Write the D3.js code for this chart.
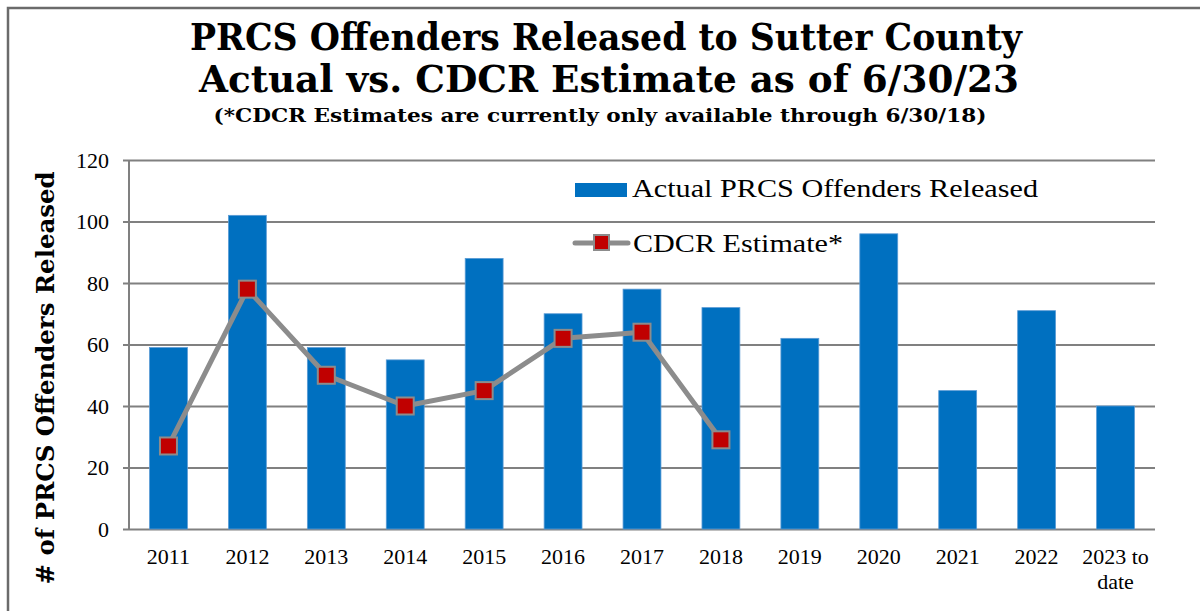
<!DOCTYPE html>
<html>
<head>
<meta charset="utf-8">
<script src="https://d3js.org/d3.v7.min.js"></script>
<style>
  body { margin: 0; background: #fff; }
  svg { display: block; }
</style>
</head>
<body>
<div id="chart-area"></div>
<script>
const years = ["2011", "2012", "2013", "2014", "2015", "2016", "2017", "2018", "2019", "2020", "2021", "2022", "2023 to date"];
const actual = [59, 102, 59, 55, 88, 70, 78, 72, 62, 96, 45, 71, 40];
const estimate = [27, 78, 50, 40, 45, 62, 64, 29];
const yTicks = [0, 20, 40, 60, 80, 100, 120];

const width = 1200;
const height = 611;
const margin = {top: 160, right: 45, bottom: 82, left: 129};
const serif = "'Liberation Serif', 'Times New Roman', serif";
const titleFont = "'DejaVu Serif Condensed', 'DejaVu Serif', serif";

const svg = d3.select("#chart-area")
    .append("svg")
    .attr("width", width)
    .attr("height", height);

// outer frame (only top and left edges visible)
svg.append("path")
    .attr("d", "M8,611 V8 H1200")
    .attr("fill", "none")
    .attr("stroke", "#6b6b6b")
    .attr("stroke-width", 2.5);

// titles
svg.append("text")
    .attr("x", 606).attr("y", 50)
    .attr("text-anchor", "middle")
    .style("font-family", titleFont)
    .style("font-weight", "bold")
    .style("font-size", "38px")
    .attr("textLength", 832)
    .attr("lengthAdjust", "spacingAndGlyphs")
    .text("PRCS Offenders Released to Sutter County");

svg.append("text")
    .attr("x", 609).attr("y", 92)
    .attr("text-anchor", "middle")
    .style("font-family", titleFont)
    .style("font-weight", "bold")
    .style("font-size", "38px")
    .attr("textLength", 820)
    .attr("lengthAdjust", "spacingAndGlyphs")
    .text("Actual vs. CDCR Estimate as of 6/30/23");

svg.append("text")
    .attr("x", 600).attr("y", 122)
    .attr("text-anchor", "middle")
    .style("font-family", titleFont)
    .style("font-weight", "bold")
    .style("font-size", "19px")
    .attr("textLength", 773)
    .attr("lengthAdjust", "spacingAndGlyphs")
    .text("(*CDCR Estimates are currently only available through 6/30/18)");

const x = d3.scaleBand()
    .domain(years)
    .range([margin.left, width - margin.right])
    .paddingInner(0.52)
    .paddingOuter(0.26);

const y = d3.scaleLinear()
    .domain([0, 120])
    .range([height - margin.bottom, margin.top]);

// gridlines + y axis
const yAxis = d3.axisLeft(y)
    .tickValues(yTicks)
    .tickSize(-(width - margin.right - margin.left))
    .tickPadding(20);

const gy = svg.append("g")
    .attr("transform", "translate(" + margin.left + ",0)")
    .call(yAxis);
gy.select(".domain").remove();
gy.selectAll(".tick line")
    .attr("x1", -6)
    .attr("stroke", "#808080")
    .attr("stroke-width", 2);
gy.selectAll(".tick text")
    .style("font-family", serif)
    .style("font-size", "22px")
    .attr("fill", "#000");

svg.append("line")
    .attr("x1", margin.left).attr("x2", margin.left)
    .attr("y1", y(120)).attr("y2", y(0))
    .attr("stroke", "#808080")
    .attr("stroke-width", 2);

// y axis title
svg.append("text")
    .attr("transform", "translate(54," + 378 + ") rotate(-90)")
    .attr("text-anchor", "middle")
    .style("font-family", "'DejaVu Serif', serif")
    .style("font-weight", "bold")
    .style("font-size", "24px")
    .attr("textLength", 413)
    .attr("lengthAdjust", "spacingAndGlyphs")
    .text("# of PRCS Offenders Released");

// legend (drawn under the bars like the original)
const legend = svg.append("g");
legend.append("rect")
    .attr("x", 575).attr("y", 183)
    .attr("width", 52).attr("height", 14)
    .attr("fill", "#0070C0");
legend.append("text")
    .attr("x", 632).attr("y", 197)
    .style("font-family", serif)
    .style("font-size", "25px")
    .attr("textLength", 406)
    .attr("lengthAdjust", "spacingAndGlyphs")
    .text("Actual PRCS Offenders Released");
legend.append("line")
    .attr("x1", 575).attr("x2", 628)
    .attr("y1", 243).attr("y2", 243)
    .attr("stroke", "#8c8c8c")
    .attr("stroke-width", 5)
    .attr("stroke-linecap", "round");
legend.append("rect")
    .attr("x", 594).attr("y", 235)
    .attr("width", 15).attr("height", 15)
    .attr("fill", "#C00000")
    .attr("stroke", "#8c8c8c")
    .attr("stroke-width", 2);
legend.append("text")
    .attr("x", 633).attr("y", 252)
    .style("font-family", serif)
    .style("font-size", "25px")
    .attr("textLength", 210)
    .attr("lengthAdjust", "spacingAndGlyphs")
    .text("CDCR Estimate*");

// bars
svg.append("g")
    .selectAll("rect")
    .data(actual)
    .join("rect")
    .attr("x", (d, i) => x(years[i]))
    .attr("y", d => y(d))
    .attr("width", x.bandwidth())
    .attr("height", d => y(0) - y(d))
    .attr("fill", "#0070C0")
    .attr("stroke", "#5b9bd5")
    .attr("stroke-width", 0.8);

// x labels
const xl = svg.append("g")
    .selectAll("text")
    .data(years)
    .join("text")
    .attr("x", d => x(d) + x.bandwidth() / 2)
    .attr("y", 564)
    .attr("text-anchor", "middle")
    .style("font-family", serif)
    .style("font-size", "22px");
xl.each(function (d) {
    const parts = d === "2023 to date" ? ["2023 to", "date"] : [d];
    const t = d3.select(this);
    parts.forEach((p, j) => {
        t.append("tspan")
            .attr("x", x(d) + x.bandwidth() / 2)
            .attr("dy", j === 0 ? 0 : 25)
            .text(p);
    });
});

// estimate line
const cx = (d, i) => x(years[i]) + x.bandwidth() / 2;
const line = d3.line()
    .x(cx)
    .y(d => y(d));

svg.append("path")
    .datum(estimate)
    .attr("d", line)
    .attr("fill", "none")
    .attr("stroke", "#8c8c8c")
    .attr("stroke-width", 5)
    .attr("stroke-linejoin", "round");

const ms = 17;
svg.append("g")
    .selectAll("rect")
    .data(estimate)
    .join("rect")
    .attr("x", (d, i) => cx(d, i) - ms / 2)
    .attr("y", d => y(d) - ms / 2)
    .attr("width", ms)
    .attr("height", ms)
    .attr("fill", "#C00000")
    .attr("stroke", "#8c8c8c")
    .attr("stroke-width", 2);
</script>
</body>
</html>
